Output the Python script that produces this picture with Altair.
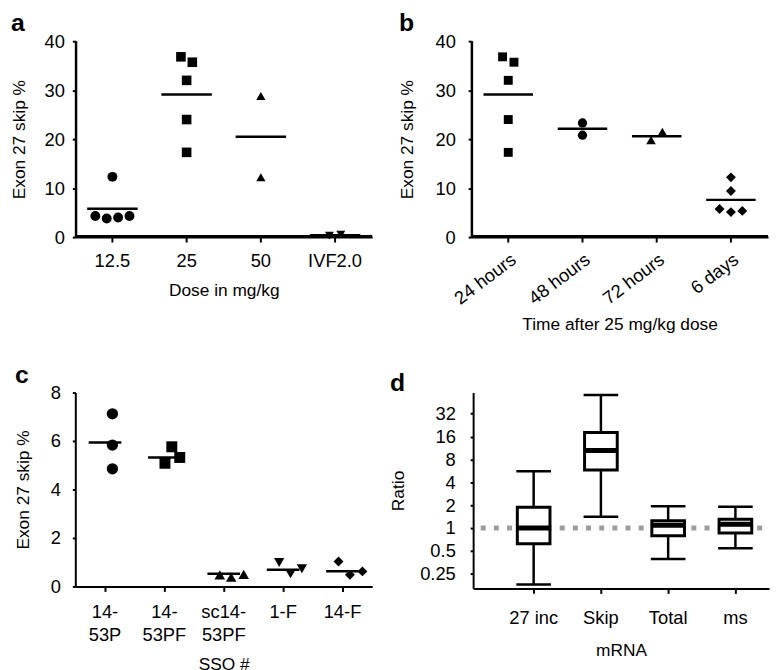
import altair as alt
import pandas as pd

FONT = "Liberation Sans"

# ---------------- data ----------------
# panel a: dose response
a_categories = ["12.5", "25", "50", "IVF2.0"]
a_shapes = ["circle", "square", "triangle-up", "triangle-down"]
a_group = ["12.5"] * 5 + ["25"] * 5 + ["50"] * 2 + ["IVF2.0"] * 2
a_value = [12.3, 4.3, 3.8, 4.0, 4.3, 36.8, 35.7, 32.0, 24.0, 17.3, 28.8, 12.2, 0.3, 0.5]
a_slot = [0, -1.5, -0.5, 0.5, 1.5, -0.5, 0.5, 0, 0, 0, 0, 0, -0.5, 0.5]
a_mean = [5.8, 29.1, 20.5, 0.4]

# panel b: time course
b_categories = ["24 hours", "48 hours", "72 hours", "6 days"]
b_shapes = ["square", "circle", "triangle-up", "diamond"]
b_group = ["24 hours"] * 5 + ["48 hours"] * 2 + ["72 hours"] * 2 + ["6 days"] * 5
b_value = [36.8, 35.7, 32.0, 24.0, 17.3, 23.3, 20.8, 21.5, 19.8, 12.2, 9.4, 5.75, 5.1, 5.35]
b_slot = [-0.5, 0.5, 0, 0, 0, 0, 0, 0.5, -0.5, 0, 0, -1, 0, 1]
b_mean = [29.1, 22.1, 20.6, 7.6]

# panel c: SSO comparison
c_categories = ["14-\n53P", "14-\n53PF", "sc14-\n53PF", "1-F", "14-F"]
c_shapes = ["circle", "square", "triangle-up", "triangle-down", "diamond"]
c_group = [c for c in c_categories for _ in range(3)]
c_value = [7.12, 5.83, 4.85, 5.76, 5.08, 5.32, 0.48, 0.38, 0.5, 0.99, 0.52, 0.73, 1.03, 0.48, 0.62]
c_slot = [0, 0, 0, 0, -0.6, 0.7, -1, 0, 1.1, -1, 0, 1, -1, 0, 1.1]
c_mean = [5.94, 5.32, 0.52, 0.69, 0.63]

# panel d: box plots of ratio
d_categories = ["27 inc", "Skip", "Total", "ms"]
d_low = [0.18, 1.41, 0.39, 0.54]
d_q1 = [0.62, 5.8, 0.79, 0.86]
d_median = [1.0, 10.5, 1.09, 1.12]
d_q3 = [1.88, 18.1, 1.25, 1.3]
d_high = [5.6, 56.5, 1.94, 1.9]
d_reference = [1]

# ---------------- styling ----------------
a_sizes = [100, 81, 110, 110]
b_sizes = [81, 100, 110, 120]
c_sizes = [130, 100, 120, 120, 130]
SLOT_PX = 11.5
LABEL_SIZE = 18.5
TITLE_SIZE = 17.5
AXIS_STYLE = dict(domain=True, domainColor="black", domainWidth=2, domainOpacity=1,
                  ticks=True, tickColor="black", tickWidth=2, grid=False, zindex=1)


def band_width(width, n, pad_outer):
    return width / (n + 2 * pad_outer)


def letter_title(letter):
    return alt.TitleParams(letter, anchor="start", frame="bounds", fontSize=25,
                           fontWeight="bold", font=FONT, offset=-4, color="black")


def dot_panel(cats, shapes, sizes, groups, values, slots, means, letter,
              width, height, y_max, y_step, y_axis_opts, x_axis_opts,
              x_title, pad_outer=0.0, align=0.5, tick_len=50, spines=False):
    df = pd.DataFrame({"group": groups, "value": values, "slot": slots})
    mdf = pd.DataFrame({"group": cats, "mean": means})
    bw = band_width(width, len(cats), pad_outer)
    xscale = alt.Scale(domain=cats, paddingInner=0, paddingOuter=pad_outer, align=align)
    yscale = alt.Scale(domain=[0, y_max], nice=False)
    xaxis = alt.Axis(title=x_title, **AXIS_STYLE, **x_axis_opts)
    yaxis = alt.Axis(title="Exon 27 skip %",
                     values=list(range(0, y_max + 1, y_step)), **AXIS_STYLE, **y_axis_opts)
    X = alt.X("group:N", scale=xscale, axis=xaxis, sort=cats)
    pts = alt.Chart(df).mark_point(filled=True, color="black", opacity=1).encode(
        x=X,
        xOffset=alt.XOffset("slot:Q", scale=alt.Scale(
            domain=[-1, 1], range=[bw / 2 - SLOT_PX, bw / 2 + SLOT_PX])),
        y=alt.Y("value:Q", scale=yscale, axis=yaxis),
        shape=alt.Shape("group:N", scale=alt.Scale(domain=cats, range=shapes), legend=None),
        size=alt.Size("group:N", scale=alt.Scale(domain=cats, range=sizes), legend=None),
    )
    mean = alt.Chart(mdf).mark_tick(color="black", opacity=1, thickness=2.5, size=tick_len,
                                    orient="horizontal").encode(
        x=X, y=alt.Y("mean:Q", scale=yscale, axis=yaxis),
    )
    layers = [pts, mean]
    if spines:
        base_rect = alt.Chart(mdf.head(1)).mark_rect(color="black", opacity=1).encode(
            x=alt.value(0), x2=alt.value(width),
            y=alt.value(height - 2), y2=alt.value(height),
        )
        left_rect = alt.Chart(mdf.head(1)).mark_rect(color="black", opacity=1).encode(
            x=alt.value(0), x2=alt.value(2),
            y=alt.value(0), y2=alt.value(height),
        )
        layers = [base_rect, left_rect] + layers
    return alt.layer(*layers).resolve_scale(
        shape="independent", size="independent").properties(
        width=width, height=height, title=letter_title(letter),
    )


a = dot_panel(
    a_categories, a_shapes, a_sizes, a_group, a_value, a_slot, a_mean, "a",
    width=300, height=198, y_max=40, y_step=10,
    y_axis_opts=dict(tickSize=3, labelPadding=8, minExtent=40, maxExtent=40, titlePadding=7),
    x_axis_opts=dict(labelAngle=0, tickSize=5, labelPadding=10, minExtent=32, maxExtent=32,
                     titlePadding=13),
    x_title="Dose in mg/kg", pad_outer=0.0, align=0.5, tick_len=51, spines=True,
)

b = dot_panel(
    b_categories, b_shapes, b_sizes, b_group, b_value, b_slot, b_mean, "b",
    width=300, height=198, y_max=40, y_step=10,
    y_axis_opts=dict(tickSize=3, labelPadding=13, minExtent=45, maxExtent=45, titlePadding=10),
    x_axis_opts=dict(labelAngle=-37, labelAlign="right", labelBaseline="top", tickSize=5,
                     labelPadding=8, minExtent=66, maxExtent=66, titlePadding=13),
    x_title="Time after 25 mg/kg dose", pad_outer=0.0, align=0.5, tick_len=50, spines=True,
)

c = dot_panel(
    c_categories, c_shapes, c_sizes, c_group, c_value, c_slot, c_mean, "c",
    width=300, height=196, y_max=8, y_step=2,
    y_axis_opts=dict(tickSize=3, labelPadding=12, minExtent=36, maxExtent=36, titlePadding=7),
    x_axis_opts=dict(labelAngle=0, tickSize=5, labelPadding=11, labelLineHeight=24,
                     labelExpr="split(datum.label, '\\n')", minExtent=57, maxExtent=57,
                     titlePadding=13),
    x_title="SSO #", pad_outer=0.0, align=0.5, tick_len=33,
)

# panel d
ddf = pd.DataFrame({"group": d_categories, "low": d_low, "q1": d_q1, "median": d_median,
                    "q3": d_q3, "high": d_high})
d_x = alt.X("group:N", sort=d_categories,
            scale=alt.Scale(domain=d_categories, paddingInner=0, paddingOuter=0.2, align=1),
            axis=alt.Axis(title="mRNA", labelAngle=0, tickSize=5, labelPadding=15,
                          minExtent=33, maxExtent=33, titlePadding=21, **AXIS_STYLE))
d_scale = alt.Scale(type="log", base=2, domain=[0.16, 61], nice=False)
d_axis = alt.Axis(title="Ratio", values=[0.25, 0.5, 1, 2, 4, 8, 16, 32], format="~g",
                  tickSize=3, labelPadding=15, minExtent=56, maxExtent=56, titlePadding=10,
                  **AXIS_STYLE)
base_d = alt.Chart(ddf)
ref_line = alt.Chart(pd.DataFrame({"ref": d_reference})).mark_rule(
    color="#9d9d9d", strokeWidth=5, strokeDash=[5, 8.3], strokeDashOffset=-7
).encode(y=alt.Y("ref:Q", scale=d_scale, axis=d_axis))
whisk = base_d.mark_rule(color="black", strokeWidth=2.5).encode(
    x=d_x, y=alt.Y("low:Q", scale=d_scale, axis=d_axis), y2="high:Q")
cap_lo = base_d.mark_tick(color="black", opacity=1, thickness=2.5, size=35,
                          orient="horizontal").encode(
    x=d_x, y=alt.Y("low:Q", scale=d_scale, axis=d_axis))
cap_hi = base_d.mark_tick(color="black", opacity=1, thickness=2.5, size=35,
                          orient="horizontal").encode(
    x=d_x, y=alt.Y("high:Q", scale=d_scale, axis=d_axis))
box = base_d.mark_bar(size=33, fill="white", stroke="black", strokeWidth=3, opacity=1).encode(
    x=d_x, y=alt.Y("q1:Q", scale=d_scale, axis=d_axis), y2="q3:Q")
med = base_d.mark_tick(color="black", opacity=1, thickness=5, size=33,
                       orient="horizontal").encode(
    x=d_x, y=alt.Y("median:Q", scale=d_scale, axis=d_axis))
d = alt.layer(ref_line, whisk, cap_lo, cap_hi, box, med).properties(
    width=299, height=198, title=letter_title("d"),
)

row1 = alt.hconcat(a, b, spacing=27).resolve_scale(shape="independent", size="independent")
row2 = alt.hconcat(c, d, spacing=18).resolve_scale(shape="independent", size="independent")
chart = alt.vconcat(row1, row2, spacing=30).resolve_scale(
    shape="independent", size="independent"
).properties(
    padding={"left": 3, "top": 0, "right": 0, "bottom": 0}
).configure_axis(
    labelColor="black", titleColor="black", labelFont=FONT, titleFont=FONT,
    labelFontSize=LABEL_SIZE, titleFontSize=TITLE_SIZE, titleFontWeight="normal",
).configure_view(stroke=None)

chart.save("out.html", embed_options={"renderer": "svg", "actions": False})
